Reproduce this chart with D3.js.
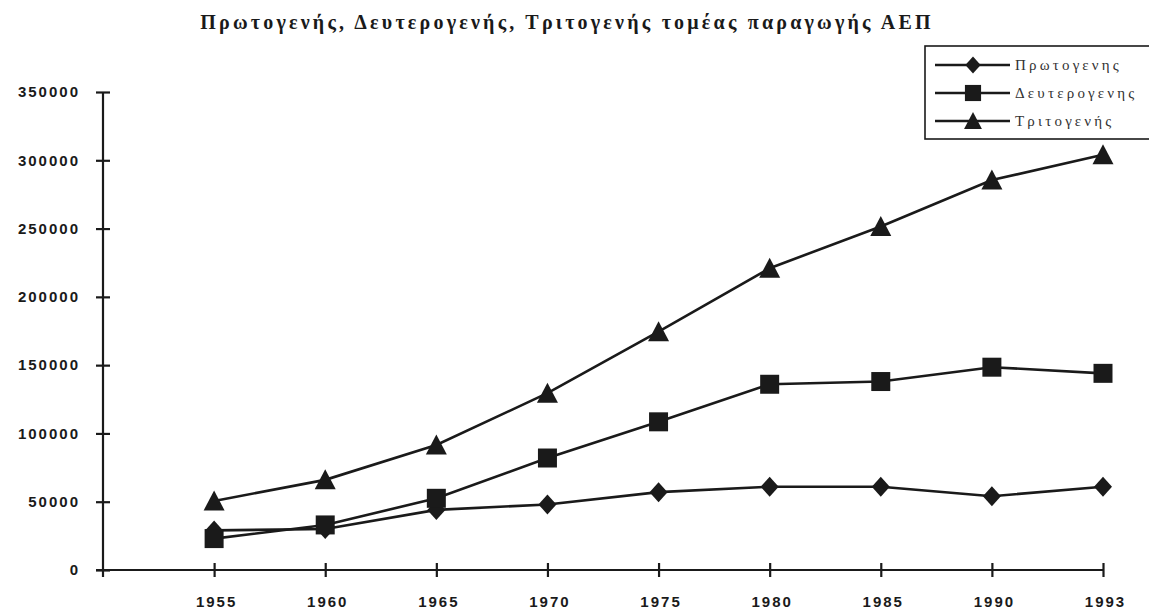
<!DOCTYPE html>
<html>
<head>
<meta charset="utf-8">
<script src="https://cdn.jsdelivr.net/npm/d3@7"></script>
<style>
  body { margin: 0; background: #fff; }
  .axis text { font-family: "Liberation Sans", Arial, sans-serif; font-weight: bold; font-size: 15px; letter-spacing: 2px; fill: #1a1a1a; }
  .axis line, .axis path { stroke: #1a1a1a; stroke-width: 2.2px; }
</style>
</head>
<body>
<svg id="chart" width="1149" height="609"></svg>
<script>
// data
var years = ['1955', '1960', '1965', '1970', '1975', '1980', '1985', '1990', '1993'];
var primary = [29000, 30000, 44000, 48000, 57000, 61000, 61000, 54000, 61000];
var secondary = [23000, 33000, 52500, 82000, 108500, 136000, 138000, 148500, 144000];
var tertiary = [50500, 66000, 91500, 129500, 174500, 221000, 251500, 285500, 304000];
var yTicks = [0, 50000, 100000, 150000, 200000, 250000, 300000, 350000];
var seriesNames = ['Πρωτογενης', 'Δευτερογενης', 'Τριτογενής'];
var title = 'Πρωτογενής, Δευτερογενής, Τριτογενής τομέας παραγωγής ΑΕΠ';

(function() {
    var ink = '#1a1a1a';
    var svg = d3.select('#chart');

    // plot area
    var plotLeft = 103, plotRight = 1103, plotTop = 92, plotBottom = 570;
    var step = (plotRight - plotLeft) / years.length;

    var x = d3.scalePoint()
        .domain(years)
        .range([plotLeft + step, plotRight]);
    var y = d3.scaleLinear()
        .domain([0, 350000])
        .range([plotBottom, plotTop]);

    // title
    svg.append('text')
        .attr('x', 567)
        .attr('y', 29)
        .attr('text-anchor', 'middle')
        .style('font-family', '"Liberation Serif", "DejaVu Serif", serif')
        .style('font-weight', 'bold')
        .style('font-size', '20px')
        .style('letter-spacing', '3.2px')
        .style('fill', ink)
        .text(title);

    // y axis
    var yAxis = d3.axisLeft(y)
        .tickValues(yTicks)
        .tickSizeInner(7)
        .tickSizeOuter(0)
        .tickPadding(16)
        .tickFormat(d3.format('d'));
    var gy = svg.append('g')
        .classed('axis yaxis', true)
        .attr('transform', 'translate(' + plotLeft + ',0)')
        .call(yAxis);
    gy.select('.domain').remove();
    gy.selectAll('.tick line').attr('x1', 7);
    gy.append('line')
        .attr('x1', 0).attr('x2', 0)
        .attr('y1', plotTop).attr('y2', plotBottom + 7);

    // x axis
    var xAxis = d3.axisBottom(x)
        .tickSizeInner(7)
        .tickSizeOuter(0)
        .tickPadding(19);
    var gx = svg.append('g')
        .classed('axis xaxis', true)
        .attr('transform', 'translate(0,' + plotBottom + ')')
        .call(xAxis);
    gx.select('.domain').remove();
    gx.selectAll('.tick line').attr('y1', -7);
    gx.selectAll('.tick text').attr('dx', '2px');
    gx.append('line')
        .attr('x1', plotLeft - 7).attr('x2', plotRight)
        .attr('y1', 0).attr('y2', 0);

    // marker shapes
    function marker(type, scale) {
        var s = (scale || 1);
        if (type === 'diamond') {
            return 'M0,' + (-10 * s) + 'L' + (9 * s) + ',0L0,' + (10 * s) + 'L' + (-9 * s) + ',0Z';
        } else if (type === 'square') {
            var h = 9.5 * s;
            return 'M' + (-h) + ',' + (-h) + 'H' + h + 'V' + h + 'H' + (-h) + 'Z';
        }
        return 'M0,' + (-10.5 * s) + 'L' + (10.5 * s) + ',' + (9.5 * s) + 'L' + (-10.5 * s) + ',' + (9.5 * s) + 'Z';
    }

    var series = [
        { name: seriesNames[0], values: primary, type: 'diamond' },
        { name: seriesNames[1], values: secondary, type: 'square' },
        { name: seriesNames[2], values: tertiary, type: 'triangle' }
    ];

    var line = d3.line()
        .x(function(d, i) { return x(years[i]); })
        .y(function(d) { return y(d); });

    var lines = svg.append('g').classed('lines', true);
    series.forEach(function(s) {
        lines.append('path')
            .attr('d', line(s.values))
            .style('fill', 'none')
            .style('stroke', ink)
            .style('stroke-width', 2.6);
    });
    series.forEach(function(s) {
        lines.append('g')
            .selectAll('path')
            .data(s.values)
            .enter()
            .append('path')
            .attr('transform', function(d, i) {
                return 'translate(' + x(years[i]) + ',' + y(d) + ')';
            })
            .attr('d', marker(s.type))
            .style('fill', ink);
    });

    // legend
    var legend = svg.append('g').classed('legend', true);
    legend.append('rect')
        .attr('x', 925)
        .attr('y', 46)
        .attr('width', 230)
        .attr('height', 93)
        .style('fill', '#fff')
        .style('stroke', ink)
        .style('stroke-width', 1.6);
    var rows = legend.selectAll('g.row')
        .data(series)
        .enter()
        .append('g')
        .classed('row', true)
        .attr('transform', function(d, i) {
            return 'translate(0,' + (65 + i * 28) + ')';
        });
    rows.append('line')
        .attr('x1', 935).attr('x2', 1010)
        .attr('y1', 0).attr('y2', 0)
        .style('stroke', ink)
        .style('stroke-width', 2.4);
    rows.append('path')
        .attr('transform', 'translate(973,0)')
        .attr('d', function(d) { return marker(d.type, 0.85); })
        .style('fill', ink);
    rows.append('text')
        .attr('x', 1015)
        .attr('y', 5)
        .style('font-family', '"Liberation Serif", "DejaVu Serif", serif')
        .style('font-size', '15px')
        .style('letter-spacing', '3.2px')
        .style('fill', '#333')
        .text(function(d) { return d.name; });
})();
</script>
</body>
</html>
